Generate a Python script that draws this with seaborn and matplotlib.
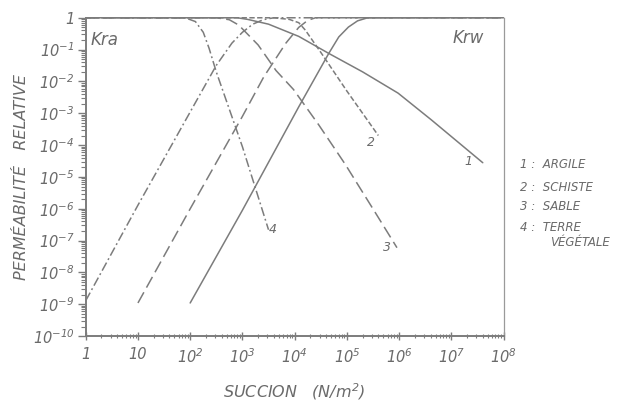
import matplotlib
matplotlib.use("Agg")
import matplotlib.pyplot as plt
import seaborn as sns
import pandas as pd
from matplotlib.ticker import LogLocator, NullFormatter, FixedLocator

# ---------------- data ----------------
x_ticks = [1, 1e1, 1e2, 1e3, 1e4, 1e5, 1e6, 1e7, 1e8]
x_tick_labels = ["1", "10", "$10^2$", "$10^3$", "$10^4$", "$10^5$", "$10^6$", "$10^7$", "$10^8$"]
y_ticks = [1e-10, 1e-9, 1e-8, 1e-7, 1e-6, 1e-5, 1e-4, 1e-3, 1e-2, 1e-1, 1]
y_tick_labels = ["$10^{-10}$", "$10^{-9}$", "$10^{-8}$", "$10^{-7}$", "$10^{-6}$",
                 "$10^{-5}$", "$10^{-4}$", "$10^{-3}$", "$10^{-2}$", "$10^{-1}$", "1"]

soils = ["1", "2", "3", "4"]
soil_names = ["ARGILE", "SCHISTE", "SABLE", "TERRE"]

# Kra (air) curves - rising
kra1_x = [100, 1000, 12000, 45000, 70000, 107000, 160000, 250000, 1e8]
kra1_y = [1.1e-9, 9e-7, 1.6e-3, 0.076, 0.25, 0.51, 0.8, 1, 1]
kra3_x = [10, 100, 1000, 2570, 6800, 12000, 17800, 25000, 1e8]
kra3_y = [1.1e-9, 1e-6, 8e-4, 0.014, 0.16, 0.5, 0.83, 1, 1]
kra4_x = [1, 10, 100, 316, 630, 1000, 1580, 2500, 4000, 1e8]
kra4_y = [1.3e-9, 1.3e-6, 1.1e-3, 0.032, 0.16, 0.35, 0.63, 0.87, 1, 1]

# Krw (water) curves - falling
krw1_x = [1, 800, 1260, 3160, 12000, 45000, 200000, 955000, 4.1e6, 4e7]
krw1_y = [1, 1, 0.89, 0.63, 0.26, 0.076, 0.02, 4.3e-3, 6.3e-4, 2.8e-5]
krw2_x = [1, 4000, 7900, 12000, 16000, 32000, 100000, 400000]
krw2_y = [1, 1, 0.89, 0.7, 0.41, 0.08, 5e-3, 2e-4]
krw3_x = [1, 316, 560, 850, 2000, 4400, 9500, 29000, 93000, 350000, 910000]
krw3_y = [1, 1, 0.87, 0.59, 0.14, 0.022, 5.6e-3, 4.3e-4, 2.5e-5, 7.6e-7, 6e-8]
krw4_x = [1, 80, 126, 178, 230, 316, 1000, 3160]
krw4_y = [1, 1, 0.76, 0.35, 0.11, 0.02, 8.9e-5, 2.2e-7]

curves = [
    ("kra1", "1", kra1_x, kra1_y), ("kra3", "3", kra3_x, kra3_y), ("kra4", "4", kra4_x, kra4_y),
    ("krw1", "1", krw1_x, krw1_y), ("krw2", "2", krw2_x, krw2_y),
    ("krw3", "3", krw3_x, krw3_y), ("krw4", "4", krw4_x, krw4_y),
]
rows = []
for cid, soil, xs, ys in curves:
    for xv, yv in zip(xs, ys):
        rows.append({"curve": cid, "soil": soil, "succion": xv, "k": yv})
df = pd.DataFrame(rows)

# ---------------- style ----------------
sns.set_style("ticks")
plt.rcParams["font.family"] = ["DejaVu Sans"]
plt.rcParams["mathtext.fontset"] = "custom"
plt.rcParams["mathtext.rm"] = "DejaVu Sans:italic"
plt.rcParams["mathtext.it"] = "DejaVu Sans:italic"
plt.rcParams["mathtext.default"] = "rm"

line_col = "#7c7c7c"
text_col = "#6a6a6a"

fig = plt.figure(figsize=(6.35, 4.04), dpi=100)
ax = fig.add_axes([0.135, 0.168, 0.658, 0.788])

dash_map = {"1": "", "2": (3.5, 1.6), "3": (8, 3.5), "4": (6, 2, 1.2, 2)}
sns.lineplot(data=df, x="succion", y="k", units="curve", style="soil",
             dashes=dash_map, estimator=None, sort=False, color=line_col,
             linewidth=1.1, legend=False, ax=ax, clip_on=False)

ax.set_xscale("log")
ax.set_yscale("log")
ax.set_xlim(1, 1e8)
ax.set_ylim(1e-10, 1)

ax.xaxis.set_major_locator(FixedLocator(x_ticks))
ax.set_xticklabels(x_tick_labels)
ax.yaxis.set_major_locator(FixedLocator(y_ticks))
ax.set_yticklabels(y_tick_labels)
ax.xaxis.set_minor_locator(LogLocator(base=10, subs=range(2, 10), numticks=30))
ax.yaxis.set_minor_locator(LogLocator(base=10, subs=range(2, 10), numticks=30))
ax.xaxis.set_minor_formatter(NullFormatter())
ax.yaxis.set_minor_formatter(NullFormatter())

for lab in ax.get_xticklabels() + ax.get_yticklabels():
    lab.set_fontstyle("italic")
ax.tick_params(axis="x", which="major", direction="inout", length=6, width=1, colors=line_col,
               labelcolor=text_col, labelsize=10.5, pad=5)
ax.tick_params(axis="x", which="minor", direction="inout", length=3.5, width=0.8, colors=line_col)
ax.tick_params(axis="y", which="major", direction="out", length=6, width=1, colors=line_col,
               labelcolor=text_col, labelsize=10.5, pad=2)
ax.tick_params(axis="y", which="minor", direction="out", length=3.5, width=0.8, colors=line_col)

for side in ["left", "bottom"]:
    ax.spines[side].set_color(line_col)
    ax.spines[side].set_linewidth(1.4)
ax.spines["right"].set_visible(True)
ax.spines["right"].set_color("#9a9a9a")
ax.spines["right"].set_linewidth(0.9)
ax.spines["top"].set_visible(False)

ax.set_xlabel("SUCCION   (N/m$^2$)", fontsize=11.5, fontstyle="italic", color=text_col, labelpad=11)
ax.set_ylabel("PERMÉABILITÉ   RELATIVE", fontsize=11.5, fontstyle="italic", color=text_col, labelpad=3)

ax.text(0.012, 0.93, "Kra", transform=ax.transAxes, fontsize=12, fontstyle="italic",
        color=text_col, ha="left", va="center")
ax.text(0.952, 0.936, "Krw", transform=ax.transAxes, fontsize=12, fontstyle="italic",
        color=text_col, ha="right", va="center")

# curve number labels
ax.text(2.1e7, 3e-5, "1", fontsize=9, fontstyle="italic", color=text_col, ha="center", va="center")
ax.text(2.9e5, 1.2e-4, "2", fontsize=9, fontstyle="italic", color=text_col, ha="center", va="center")
ax.text(5.9e5, 6e-8, "3", fontsize=9, fontstyle="italic", color=text_col, ha="center", va="center")
ax.text(3800, 2.3e-7, "4", fontsize=9, fontstyle="italic", color=text_col, ha="center", va="center")

# legend text
leg_y = [0.594, 0.537, 0.488, 0.436]
for s, name, yy in zip(soils, soil_names, leg_y):
    fig.text(0.819, yy, f"{s} :  {name}", fontsize=8.5, fontstyle="italic", color=text_col,
             ha="left", va="center")
fig.text(0.866, 0.399, "VÉGÉTALE", fontsize=8.5, fontstyle="italic", color=text_col,
         ha="left", va="center")

fig.savefig("out.png", dpi=100, facecolor="white")
